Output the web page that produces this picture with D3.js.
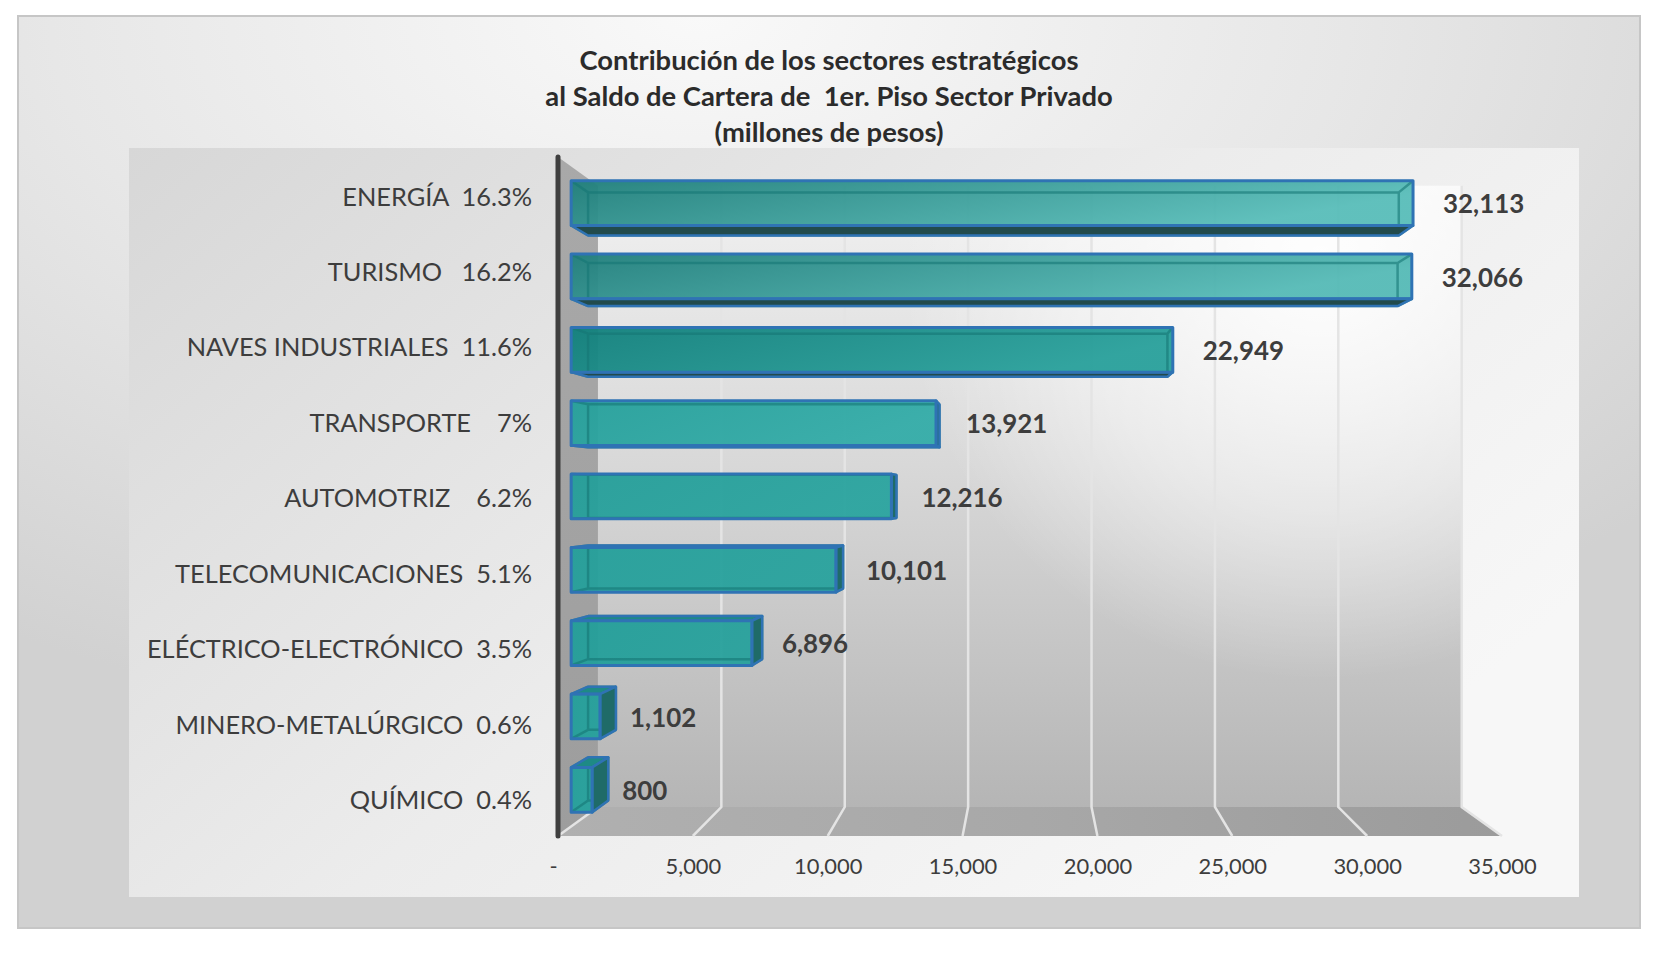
<!DOCTYPE html>
<html>
<head>
<meta charset="utf-8">
<script src="https://cdn.jsdelivr.net/npm/d3@7"></script>
<style>
html, body { margin: 0; padding: 0; background: #fff; }
svg text { font-family: Lato, "Open Sans", sans-serif; }
</style>
</head>
<body>
<div id="chart"></div>
<script>
// datos del grafico
var titleLines = [
    'Contribución de los sectores estratégicos',
    'al Saldo de Cartera de  1er. Piso Sector Privado',
    '(millones de pesos)'
];
var categories = [
    'ENERGÍA  16.3%',
    'TURISMO   16.2%',
    'NAVES INDUSTRIALES  11.6%',
    'TRANSPORTE    7%',
    'AUTOMOTRIZ    6.2%',
    'TELECOMUNICACIONES  5.1%',
    'ELÉCTRICO-ELECTRÓNICO  3.5%',
    'MINERO-METALÚRGICO  0.6%',
    'QUÍMICO  0.4%'
];
var values = [32113, 32066, 22949, 13921, 12216, 10101, 6896, 1102, 800];
var tickValues = [0, 5000, 10000, 15000, 20000, 25000, 30000, 35000];

var width = 1660;
var height = 958;

// perspectiva: punto de fuga y escala de cada plano (1 = plano frontal)
var vx = 1028, vy = 495;
var sWall = 0.915, sBarFront = 0.972, sBarBack = 0.936;

function proj(px, py, s) {
    return [vx + s * (px - vx), vy + s * (py - vy)];
}

var x = d3.scaleLinear().domain([0, 35000]).range([558, 1502]);
var y = d3.scaleBand().domain(categories).range([157, 836])
    .paddingInner(0.39).paddingOuter(0.195);

var fmt = d3.format(',');

// colores de la cara frontal de cada barra (izquierda, derecha)
var barShades = [
    ['#1f7f7b', '#58bdb9'],
    ['#207f7c', '#55bab6'],
    ['#11807c', '#28a09b'],
    ['#25a09b', '#33aca8'],
    ['#249e99', '#2aa49f'],
    ['#249f9a', '#28a29d'],
    ['#229e99', '#27a19c'],
    ['#239f9a', '#25a19c'],
    ['#24a09b', '#26a29d']
];

var svg = d3.select('#chart')
    .append('svg')
    .attr('width', width)
    .attr('height', height);

var defs = svg.append('defs');

function linGrad(id, x1, y1, x2, y2, stops) {
    var g = defs.append('linearGradient').attr('id', id)
        .attr('x1', x1).attr('y1', y1).attr('x2', x2).attr('y2', y2);
    stops.forEach(s => g.append('stop').attr('offset', s[0]).attr('stop-color', s[1]));
    return g;
}

var rg = defs.append('radialGradient').attr('id', 'outerBg')
    .attr('cx', '42%').attr('cy', '0%').attr('r', '100%');
[[0, '#f9f9f9'], [0.4, '#e7e7e7'], [0.8, '#d1d1d1']].forEach(s =>
    rg.append('stop').attr('offset', s[0]).attr('stop-color', s[1]));

linGrad('innerBg', 0, 0, 1, 0.6, [[0, '#d7d7d7'], [0.55, '#ececec'], [1, '#f7f7f7']]);
linGrad('wallBg', 0, 0, 0, 1, [[0, '#f1f1f1'], [0.45, '#d8d8d8'], [1, '#b5b5b5']]);
var hl = defs.append('radialGradient').attr('id', 'wallHi')
    .attr('gradientUnits', 'userSpaceOnUse')
    .attr('cx', 1320).attr('cy', 260).attr('r', 420);
[[0, 'rgba(255,255,255,0.95)'], [0.6, 'rgba(255,255,255,0.45)'], [1, 'rgba(255,255,255,0)']].forEach(s =>
    hl.append('stop').attr('offset', s[0]).attr('stop-color', s[1]));
linGrad('floorBg', 0, 0, 1, 0, [[0, '#b0b0b0'], [0.5, '#a8a8a8'], [1, '#9b9b9b']]);
linGrad('sideBg', 0, 0, 0, 1, [[0, '#a9a9a9'], [1, '#9d9d9d']]);

barShades.forEach((c, i) => {
    linGrad('bar' + i, 0, 0, 1, 0.3, [[0, c[0]], [1, c[1]]]);
});

// marco exterior y area de trazado
svg.append('rect')
    .attr('x', 18).attr('y', 16).attr('width', 1622).attr('height', 912)
    .attr('fill', 'url(#outerBg)')
    .attr('stroke', '#c6c6c6').attr('stroke-width', 2);

svg.append('rect')
    .attr('x', 129).attr('y', 148).attr('width', 1450).attr('height', 749)
    .attr('fill', 'url(#innerBg)');

var line = d3.line();
var topY = y.range()[0], botY = y.range()[1];
var x0 = x(0), xEnd = x(35000);

// pared del fondo
var wallPts = [proj(x0, topY, sWall), proj(xEnd, topY, sWall), proj(xEnd, botY, sWall), proj(x0, botY, sWall)];
svg.append('path').attr('d', line(wallPts) + 'Z').attr('fill', 'url(#wallBg)');
svg.append('path').attr('d', line(wallPts) + 'Z').attr('fill', 'url(#wallHi)');

// pared lateral
svg.append('path')
    .attr('d', line([proj(x0, topY, 1), proj(x0, topY, sWall), proj(x0, botY, sWall), proj(x0, botY, 1)]) + 'Z')
    .attr('fill', 'url(#sideBg)');

// piso
svg.append('path')
    .attr('d', line([proj(x0, botY, 1), proj(xEnd, botY, 1), proj(xEnd, botY, sWall), proj(x0, botY, sWall)]) + 'Z')
    .attr('fill', 'url(#floorBg)');

// lineas de division
var grid = svg.append('g')
    .attr('fill', 'none')
    .attr('stroke', '#e4e4e4')
    .attr('stroke-width', 2.5);
grid.selectAll('path')
    .data(tickValues)
    .enter()
    .append('path')
    .attr('d', d => d === 0
        ? line([proj(x(d), botY, sWall), proj(x(d), botY, 1)])
        : line([proj(x(d), topY, sWall), proj(x(d), botY, sWall), proj(x(d), botY, 1)]));

// eje vertical
svg.append('line')
    .attr('x1', x0).attr('y1', topY).attr('x2', x0).attr('y2', botY)
    .attr('stroke', '#3f3f3f').attr('stroke-width', 5).attr('stroke-linecap', 'round');

// barras 3D
var data = categories.map((c, i) => ({ cat: c, value: values[i], i: i }));

var bars = svg.append('g')
    .selectAll('g')
    .data(data)
    .enter()
    .append('g');

bars.each(function(d) {
    var g = d3.select(this);
    var bx0 = x(0), bx1 = x(d.value), by0 = y(d.cat), by1 = by0 + y.bandwidth();
    var f = [proj(bx0, by0, sBarFront), proj(bx1, by0, sBarFront), proj(bx1, by1, sBarFront), proj(bx0, by1, sBarFront)];
    var b = [proj(bx0, by0, sBarBack), proj(bx1, by0, sBarBack), proj(bx1, by1, sBarBack), proj(bx0, by1, sBarBack)];
    d.f = f;

    // cara frontal (semitransparente)
    g.append('path')
        .attr('d', line(f) + 'Z')
        .attr('fill', 'url(#bar' + d.i + ')')
        .attr('fill-opacity', 0.95);

    // aristas ocultas vistas a traves de la barra
    var hidden = [[b[0], b[1]], [b[1], b[2]], [b[2], b[3]], [b[3], b[0]],
        [f[0], b[0]], [f[1], b[1]], [f[2], b[2]], [f[3], b[3]]];
    g.append('path')
        .attr('d', hidden.map(e => line(e)).join(''))
        .attr('fill', 'none')
        .attr('stroke', '#157774')
        .attr('stroke-opacity', 0.6)
        .attr('stroke-width', 2.5);

    var faces = [];
    if (by1 < vy) faces.push({ pts: [f[3], f[2], b[2], b[3]], fill: '#224b4c' });
    if (by0 > vy) faces.push({ pts: [f[0], f[1], b[1], b[0]], fill: '#1e8a85' });
    if (bx1 < vx) faces.push({ pts: [f[1], b[1], b[2], f[2]], fill: '#1f6b68' });

    faces.forEach(fc => {
        g.append('path')
            .attr('d', line(fc.pts) + 'Z')
            .attr('fill', fc.fill)
            .attr('stroke', '#2f73b4')
            .attr('stroke-width', 2.5)
            .attr('stroke-linejoin', 'round');
    });

    g.append('path')
        .attr('d', line(f) + 'Z')
        .attr('fill', 'none')
        .attr('stroke', '#2f73b4')
        .attr('stroke-width', 3)
        .attr('stroke-linejoin', 'round');
});

// ajuste del tamano de letra segun el ancho deseado
function fitSize(str, weight, target) {
    var t = svg.append('text').attr('font-size', 100).attr('font-weight', weight)
        .style('white-space', 'pre').text(str);
    var w = t.node().getComputedTextLength();
    t.remove();
    return 100 * target / w;
}

var valueSize = (fitSize('32,113', 'bold', 81) + fitSize('22,949', 'bold', 81.5)) / 2;
var catSize = (fitSize(categories[6], 'normal', 383) + fitSize(categories[5], 'normal', 359)) / 2;
var tickSize = (fitSize('35,000', 'normal', 68) + fitSize('10,000', 'normal', 69)) / 2;
var titleSize = (fitSize(titleLines[0], 'bold', 498) + fitSize(titleLines[1], 'bold', 569)) / 2;

// etiquetas de valor
svg.append('g')
    .selectAll('text')
    .data(data)
    .enter()
    .append('text')
    .attr('x', d => d.f[1][0] + 30)
    .attr('y', d => (d.f[1][1] + d.f[2][1]) / 2 + 1)
    .attr('dy', '0.35em')
    .attr('font-size', valueSize)
    .attr('font-weight', 'bold')
    .attr('fill', '#3d3d3d')
    .text(d => fmt(d.value));

// etiquetas de categoria
svg.append('g')
    .selectAll('text')
    .data(categories)
    .enter()
    .append('text')
    .attr('x', 532)
    .attr('y', d => y(d) + y.bandwidth() / 2 + 2)
    .attr('dy', '0.35em')
    .attr('text-anchor', 'end')
    .attr('font-size', catSize)
    .attr('fill', '#3d3d3d')
    .style('white-space', 'pre')
    .text(d => d);

// eje horizontal
var axis = svg.append('g')
    .attr('transform', 'translate(0,866)')
    .call(d3.axisBottom(x)
        .tickValues(tickValues)
        .tickSize(0)
        .tickFormat(d => d === 0 ? '-' : fmt(d)));
axis.select('.domain').remove();
axis.selectAll('text')
    .attr('y', 0)
    .attr('dy', '0.35em')
    .attr('dx', d => d === 0 ? -5 : 0)
    .attr('font-size', tickSize)
    .attr('font-family', 'Lato, "Open Sans", sans-serif')
    .attr('fill', '#3d3d3d');

// titulo
svg.append('g')
    .selectAll('text')
    .data(titleLines)
    .enter()
    .append('text')
    .attr('x', 829)
    .attr('y', (d, i) => 70 + i * 36)
    .attr('text-anchor', 'middle')
    .attr('font-size', titleSize)
    .attr('font-weight', 'bold')
    .attr('fill', '#2b2b2b')
    .style('white-space', 'pre')
    .text(d => d);
</script>
</body>
</html>
